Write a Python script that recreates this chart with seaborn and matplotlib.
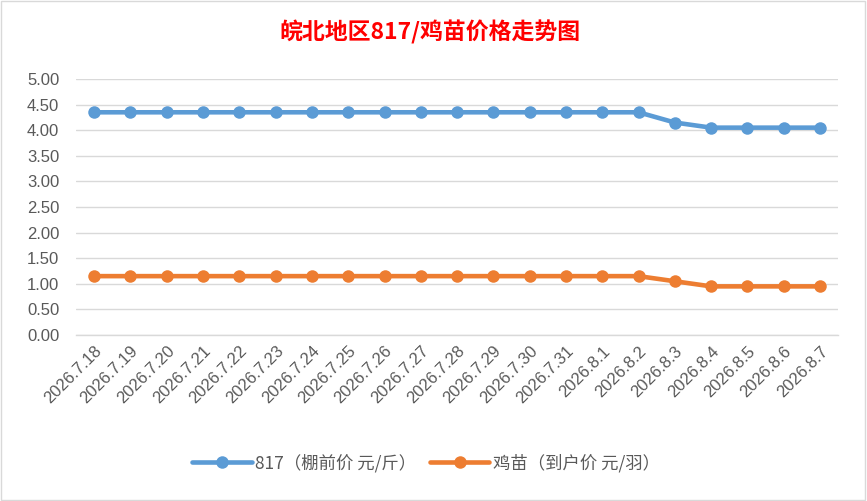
import matplotlib
matplotlib.use("Agg")
import matplotlib.pyplot as plt
import seaborn as sns
import pandas as pd
from matplotlib.patches import Rectangle

dates = ["2026.7.18", "2026.7.19", "2026.7.20", "2026.7.21", "2026.7.22", "2026.7.23",
         "2026.7.24", "2026.7.25", "2026.7.26", "2026.7.27", "2026.7.28", "2026.7.29",
         "2026.7.30", "2026.7.31", "2026.8.1", "2026.8.2", "2026.8.3", "2026.8.4",
         "2026.8.5", "2026.8.6", "2026.8.7"]
price_817 = [4.35, 4.35, 4.35, 4.35, 4.35, 4.35, 4.35, 4.35, 4.35, 4.35, 4.35, 4.35,
             4.35, 4.35, 4.35, 4.35, 4.15, 4.05, 4.05, 4.05, 4.05]
price_chick = [1.15, 1.15, 1.15, 1.15, 1.15, 1.15, 1.15, 1.15, 1.15, 1.15, 1.15, 1.15,
               1.15, 1.15, 1.15, 1.15, 1.05, 0.95, 0.95, 0.95, 0.95]
series_names = ["817（棚前价 元/斤）", "鸡苗（到户价 元/羽）"]
title = "皖北地区817/鸡苗价格走势图"

sns.set_theme(style="white")
plt.rcParams['font.family'] = ['Noto Sans CJK SC', 'DejaVu Sans']

df = pd.DataFrame({
    "date": dates * 2,
    "price": price_817 + price_chick,
    "series": [series_names[0]] * len(dates) + [series_names[1]] * len(dates),
})

fig = plt.figure(figsize=(8.67, 5.01), dpi=100)
ax = fig.add_axes([0.0877, 0.3313, 0.879, 0.511])

colors = ["#5B9BD5", "#ED7D31"]
sns.lineplot(data=df, x="date", y="price", hue="series", palette=colors,
             marker="o", markersize=9, markeredgewidth=0, linewidth=3.3,
             sort=False, ax=ax, legend=True)

ax.set_xlim(-0.5, len(dates) - 0.5)
ax.set_ylim(0, 5)
ax.set_yticks([i * 0.5 for i in range(11)])
ax.set_yticklabels([f"{i*0.5:.2f}" for i in range(11)])
ax.set_xticks(range(len(dates)))
ax.set_xticklabels(dates, rotation=45, ha="right", rotation_mode="anchor")
ax.grid(axis="y", color="#d9d9d9", linewidth=1)
ax.set_axisbelow(True)
for s in ["top", "right", "left"]:
    ax.spines[s].set_visible(False)
ax.spines["bottom"].set_color("#d9d9d9")
ax.spines["bottom"].set_linewidth(1)
ax.tick_params(axis="both", colors="#595959", labelsize=12, length=0, pad=6)
ax.tick_params(axis="y", pad=12)
for lab in ax.get_xticklabels() + ax.get_yticklabels():
    lab.set_color("#595959")
    lab.set_family(['Liberation Sans', 'DejaVu Sans'])
ax.set_xlabel("")
ax.set_ylabel("")

handles, labels = ax.get_legend_handles_labels()
ax.get_legend().remove()
leg = fig.legend(handles, labels, loc="center", bbox_to_anchor=(426 / 867, 1 - 463 / 501),
                 ncol=2, frameon=False, fontsize=12.5, handlelength=3.4, columnspacing=0.8,
                 handletextpad=0.2)
for t in leg.get_texts():
    t.set_color("#595959")

fig.text(430 / 867, 1 - 32 / 501, title, color="#FF0000", fontsize=16.5,
         fontweight="bold", ha="center", va="center")

fig.patches.append(Rectangle((0.001, 0.001), 0.997, 0.997, transform=fig.transFigure,
                             fill=False, edgecolor="#d9d9d9", linewidth=1))

fig.savefig("out.png", dpi=100)
